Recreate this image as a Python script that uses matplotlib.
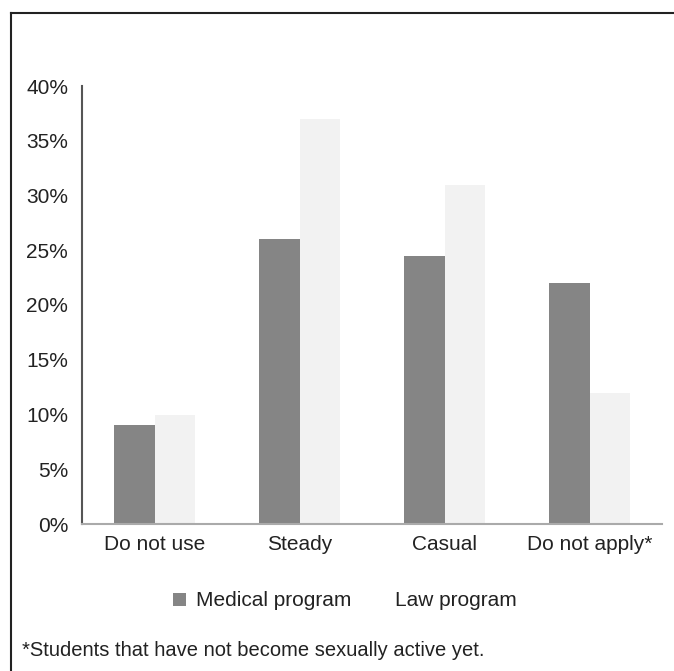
import numpy as np
import matplotlib
matplotlib.use("Agg")
import matplotlib.pyplot as plt
from matplotlib.patches import Patch
from matplotlib.lines import Line2D

plt.rcParams['font.family'] = ['Liberation Sans', 'DejaVu Sans']

categories = ["Do not use", "Steady", "Casual", "Do not apply*"]
medical = [9, 26, 24.5, 22]
law = [10, 37, 31, 12]
yticks = [0, 5, 10, 15, 20, 25, 30, 35, 40]
footnote = "*Students that have not become sexually active yet."

W, H = 674, 671
fig = plt.figure(figsize=(W / 100, H / 100), dpi=100)
ax = fig.add_axes([82 / W, 1 - 524 / H, 580 / W, 438 / H])

x = np.arange(len(categories))
bw = 0.28
ax.bar(x - bw / 2, medical, bw, color="#858585", label="Medical program")
ax.bar(x + bw / 2, law, bw, color="#f2f2f2", label="Law program")

ax.set_xlim(-0.5, len(categories) - 0.5)
ax.set_ylim(0, 40)
ax.set_yticks(yticks)
ax.set_yticklabels([f"{t}%" for t in yticks])
ax.set_xticks(x)
ax.set_xticklabels(categories)
ax.tick_params(axis="both", length=0, labelsize=15, colors="#222222")
ax.tick_params(axis="y", pad=10)
ax.tick_params(axis="x", pad=8)

for s in ["top", "right"]:
    ax.spines[s].set_visible(False)
ax.spines["left"].set_color("#555555")
ax.spines["left"].set_linewidth(1.5)
ax.spines["bottom"].set_color("#aaaaaa")
ax.spines["bottom"].set_linewidth(1.5)

# legend
handles = [Patch(facecolor="#858585", edgecolor="none"),
           Patch(facecolor="white", edgecolor="none")]
fig.legend(handles, ["Medical program", "Law program"], loc="center",
           bbox_to_anchor=(345 / W, 1 - 601 / H), ncol=2, frameon=False,
           fontsize=15, handlelength=0.6, handleheight=0.6, handletextpad=0.5,
           columnspacing=1.0, labelcolor="#222222")

fig.text(22 / W, 1 - 651 / H, footnote, fontsize=14.5, va="center", ha="left",
         color="#222222")

# outer frame (top and left edges)
fig.add_artist(Line2D([11 / W, 1], [1 - 13 / H, 1 - 13 / H], color="#222222", lw=1.5))
fig.add_artist(Line2D([11 / W, 11 / W], [0, 1 - 13 / H], color="#222222", lw=1.5))

fig.savefig("out.png", dpi=100)
